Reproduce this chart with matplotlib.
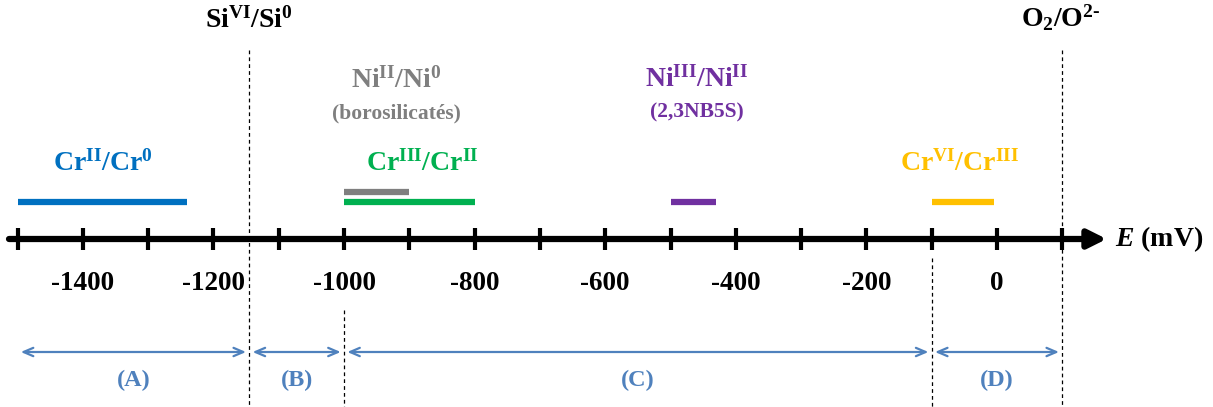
import matplotlib
matplotlib.use("Agg")
import matplotlib.pyplot as plt

# Échelle de potentiel (mV)
tick_values = [-1500, -1400, -1300, -1200, -1100, -1000, -900, -800, -700,
               -600, -500, -400, -300, -200, -100, 0, 100]
label_values = [-1400, -1200, -1000, -800, -600, -400, -200, 0]

# Couples redox : nom, début, fin, couleur
couple_names = [r"Cr$^{\mathrm{II}}$/Cr$^{\mathrm{0}}$",
                r"Ni$^{\mathrm{II}}$/Ni$^{\mathrm{0}}$",
                r"Cr$^{\mathrm{III}}$/Cr$^{\mathrm{II}}$",
                r"Ni$^{\mathrm{III}}$/Ni$^{\mathrm{II}}$",
                r"Cr$^{\mathrm{VI}}$/Cr$^{\mathrm{III}}$"]
couple_start = [-1500, -1000, -1000, -500, -100]
couple_end = [-1240, -900, -800, -430, -5]
couple_colors = ["#0070C0", "#7F7F7F", "#00B050", "#7030A0", "#FFC000"]

# Limites de stabilité
limit_names = [r"Si$^{\mathrm{VI}}$/Si$^{\mathrm{0}}$", r"O$_{\mathrm{2}}$/O$^{\mathrm{2\text{-}}}$"]
limit_values = [-1145, 100]

# Domaines
domain_names = ["(A)", "(B)", "(C)", "(D)"]
domain_bounds = [-1500, -1145, -1000, -100, 100]

plt.rcParams['font.family'] = ['Liberation Serif']
plt.rcParams['font.weight'] = 'bold'
plt.rcParams['mathtext.fontset'] = 'custom'
plt.rcParams['mathtext.rm'] = 'Liberation Serif:bold'
plt.rcParams['mathtext.bf'] = 'Liberation Serif:bold'
plt.rcParams['mathtext.it'] = 'Liberation Serif:italic:bold'

fig = plt.figure(figsize=(12.13, 4.07), dpi=100)
ax = fig.add_axes([0, 0, 1, 1])
# x en mV (0 mV -> 997 px, 65.3 px / 100 mV), y en pixels
ax.set_xlim((0 - 997) / 0.653, (1213 - 997) / 0.653)
ax.set_ylim(407, 0)
ax.axis("off")

axis_y = 239
dash = (0, (3, 2.5))

# Axe principal avec flèche
ax.annotate("", xy=(168, axis_y), xytext=(-1513, axis_y),
            arrowprops=dict(arrowstyle="-|>,head_length=1.1,head_width=0.55",
                            lw=4.5, color="black", shrinkA=0, shrinkB=0))
ax.vlines(tick_values, axis_y - 11, axis_y + 11, colors="black", lw=3)
for v in label_values:
    ax.text(v, 283, str(v), ha="center", va="center", fontsize=19.5)
ax.text((1115 - 997) / 0.653, axis_y, "$E$ (mV)", ha="left", va="center",
        fontsize=20)

# Lignes pointillées
ax.vlines(limit_values[0], 50, 407, colors="black", lw=0.9, linestyles=dash)
ax.vlines(limit_values[1], 50, 407, colors="black", lw=0.9, linestyles=dash)
ax.vlines(-1000, 310, 407, colors="black", lw=0.9, linestyles=dash)
ax.vlines(-100, 258, 407, colors="black", lw=0.9, linestyles=dash)
ax.text(limit_values[0], 20, limit_names[0], ha="center", va="center", fontsize=20)
ax.text(limit_values[1] - 2, 18, limit_names[1], ha="center", va="center", fontsize=20)

# Couples redox
bar_y = [202, 192, 202, 202, 202]
label_x = [-1370, -920, -880, -460, -57]
label_y = [163, 80, 163, 79, 163]
for i in range(len(couple_names)):
    ax.hlines(bar_y[i], couple_start[i], couple_end[i], colors=couple_colors[i], lw=4.5)
    ax.text(label_x[i], label_y[i], couple_names[i], ha="center", va="center",
            fontsize=20, color=couple_colors[i])
ax.text(-920, 113, "(borosilicatés)", ha="center", va="center", fontsize=15.5,
        color=couple_colors[1])
ax.text(-460, 112, "(2,3NB5S)", ha="center", va="center", fontsize=15.5,
        color=couple_colors[3])

# Domaines
dom_color = "#4F81BD"
for i in range(len(domain_names)):
    a, b = domain_bounds[i], domain_bounds[i + 1]
    ax.annotate("", xy=(b - 5, 352), xytext=(a + 5, 352),
                arrowprops=dict(arrowstyle="<->,head_length=0.7,head_width=0.3",
                                lw=1.6, color=dom_color, shrinkA=0, shrinkB=0))
    ax.text((a + b) / 2, 380, domain_names[i], ha="center", va="center",
            fontsize=17.5, color=dom_color)

fig.savefig("out.png", dpi=100)
